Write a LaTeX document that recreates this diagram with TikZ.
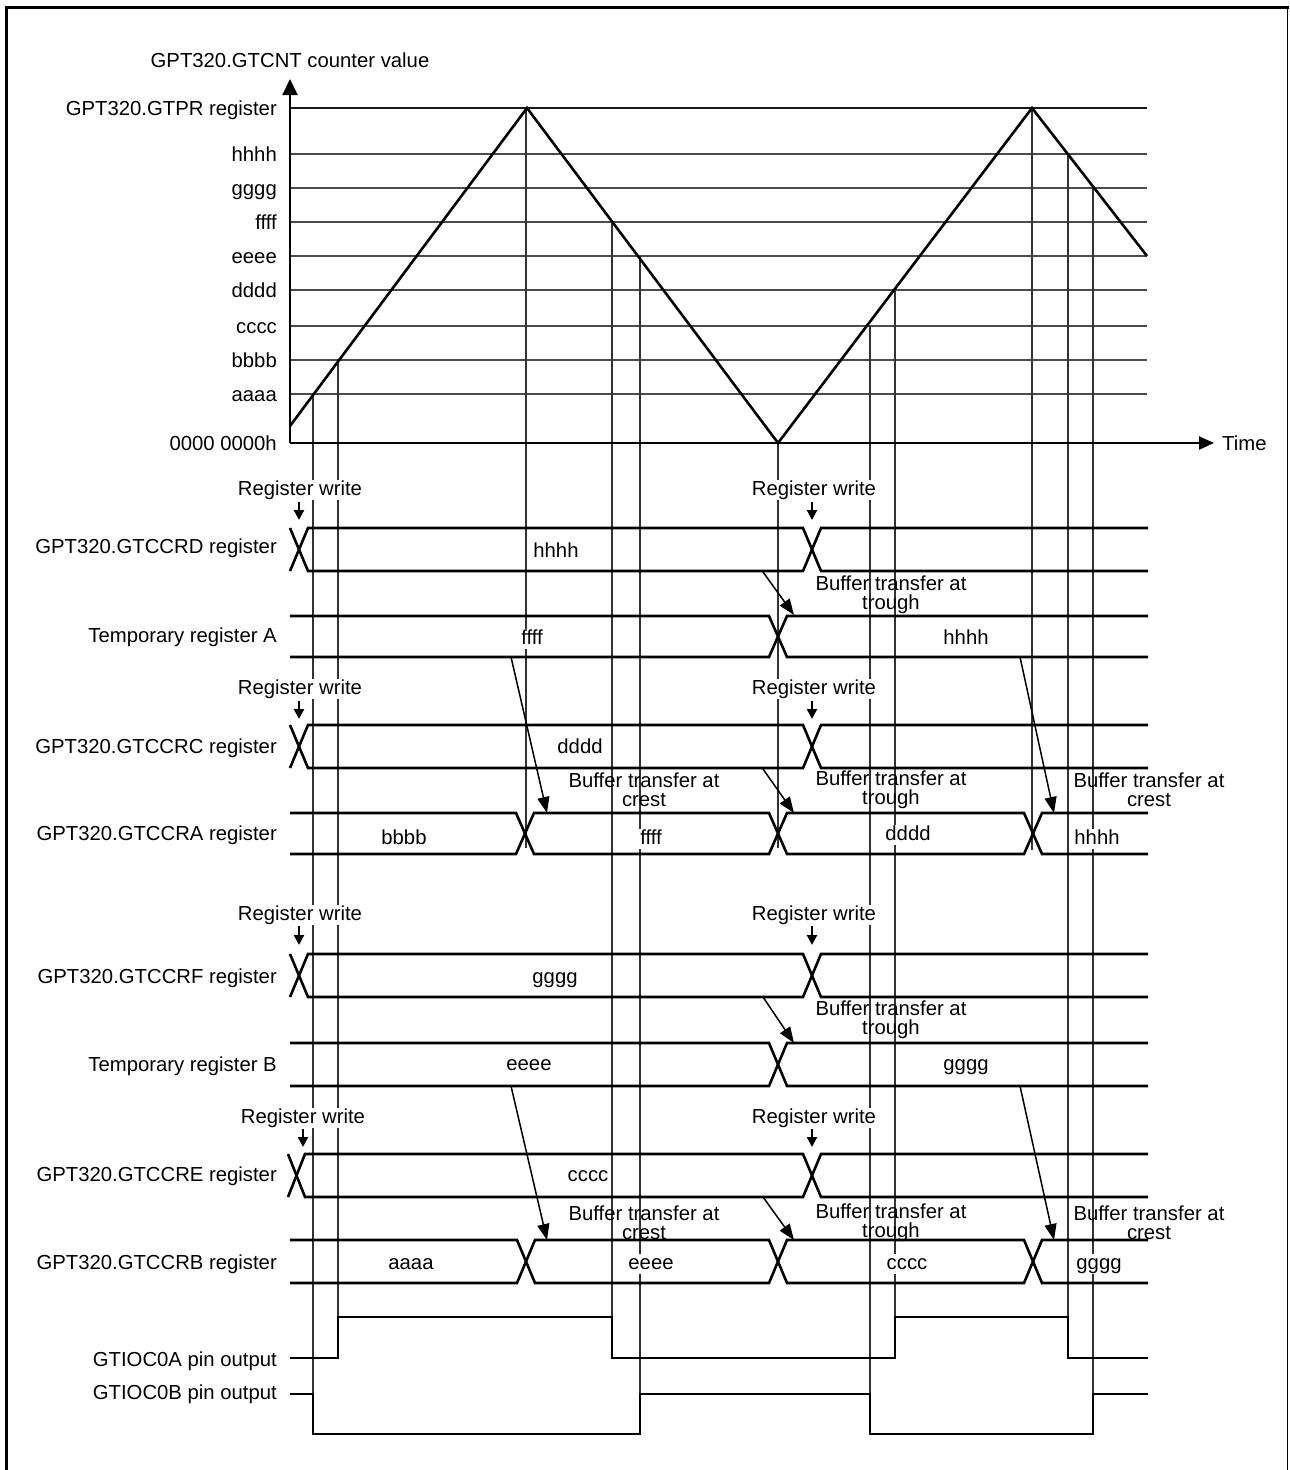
\documentclass[tikz,border=0pt]{standalone}
\usepackage{fontspec}
\setmainfont{Liberation Sans}
\usetikzlibrary{arrows.meta}
\begin{document}
\begin{tikzpicture}[x=1pt,y=-1pt,
  txt/.style={font=\fontsize{20.3}{19}\selectfont, inner sep=1pt, text height=14pt, text depth=4pt},
  wtxt/.style={txt, fill=white},
  lft/.style={txt, anchor=east},
  mtxt/.style={font=\fontsize{20.3}{19}\selectfont, inner sep=0pt, align=center},
  bus/.style={line width=2.6pt, line join=miter},
  gridl/.style={line width=1.4pt, black!70},
  vl/.style={line width=1.1pt, black!80},
  tri/.style={line width=2.6pt, line join=miter},
  buf/.style={line width=1.5pt, -{Triangle[length=16pt,width=12pt]}},
  rw/.style={line width=2.2pt, -{Triangle[length=10pt,width=10pt]}},
  frame/.style={line width=3pt}
]
\useasboundingbox (0,0) rectangle (1290,1470);
% frame
\draw[frame] (6.5,1470) -- (6.5,7.5) -- (1289,7.5);
\draw[line width=1.6pt] (1287.5,6) -- (1287.5,1470);

% grid lines
\draw[line width=1.3pt, black!90] (290,108) -- (1147,108);
\foreach \y in {154,188,222,256,290,326,360,394}
  \draw[gridl] (290,\y) -- (1147,\y);

% vertical lines
\draw[vl] (313,394) -- (313,1434);
\draw[vl] (338,360) -- (338,1358);
\draw[vl] (526,108) -- (526,848);
\draw[vl] (612,222) -- (612,1358);
\draw[vl] (640,256) -- (640,1434);
\draw[vl] (778,443) -- (778,848);
\draw[vl] (870,326) -- (870,1434);
\draw[vl] (895,290) -- (895,1358);
\draw[vl] (1032,108) -- (1032,850);
\draw[vl] (1068,154) -- (1068,1358);
\draw[vl] (1093,188) -- (1093,1434);

% axes
\draw[line width=2.2pt, -{Triangle[length=16pt,width=15pt]}] (290,443) -- (290,79);
\draw[line width=2.4pt, -{Triangle[length=15pt,width=13pt]}] (290,443) -- (1214,443);
% counter
\draw[tri] (290,426) -- (527,108) -- (778,443) -- (1032,108) -- (1147,256);

% bus rows
% GTCCRD
\draw[bus] (290,571) -- (308,528) -- (803,528) -- (821,571) -- (1148,571);
\draw[bus] (290,528) -- (308,571) -- (803,571) -- (821,528) -- (1148,528);
% Temp A
\draw[bus] (290,616) -- (769,616) -- (787,657) -- (1148,657);
\draw[bus] (290,657) -- (769,657) -- (787,616) -- (1148,616);
% GTCCRC
\draw[bus] (290,768) -- (308,725) -- (803,725) -- (821,768) -- (1148,768);
\draw[bus] (290,725) -- (308,768) -- (803,768) -- (821,725) -- (1148,725);
% GTCCRA
\draw[bus] (290,813) -- (516,813) -- (534,854) -- (769,854) -- (787,813) -- (1024,813) -- (1042,854) -- (1148,854);
\draw[bus] (290,854) -- (516,854) -- (534,813) -- (769,813) -- (787,854) -- (1024,854) -- (1042,813) -- (1148,813);
% GTCCRF
\draw[bus] (290,997) -- (308,954) -- (803,954) -- (821,997) -- (1148,997);
\draw[bus] (290,954) -- (308,997) -- (803,997) -- (821,954) -- (1148,954);
% Temp B
\draw[bus] (290,1043) -- (769,1043) -- (787,1086) -- (1148,1086);
\draw[bus] (290,1086) -- (769,1086) -- (787,1043) -- (1148,1043);
% GTCCRE
\draw[bus] (288,1197) -- (305,1154) -- (803,1154) -- (821,1197) -- (1148,1197);
\draw[bus] (288,1154) -- (305,1197) -- (803,1197) -- (821,1154) -- (1148,1154);
% GTCCRB
\draw[bus] (290,1240) -- (517,1240) -- (535,1283) -- (769,1283) -- (787,1240) -- (1024,1240) -- (1042,1283) -- (1148,1283);
\draw[bus] (290,1283) -- (517,1283) -- (535,1240) -- (769,1240) -- (787,1283) -- (1024,1283) -- (1042,1240) -- (1148,1240);
% pin outputs
\draw[bus] (290,1358) -- (338,1358) -- (338,1317) -- (612,1317) -- (612,1358) -- (895,1358) -- (895,1317) -- (1068,1317) -- (1068,1358) -- (1148,1358);
\draw[bus] (290,1394) -- (313,1394) -- (313,1434) -- (640,1434) -- (640,1394) -- (870,1394) -- (870,1434) -- (1093,1434) -- (1093,1394) -- (1148,1394);

% axis labels
\node[txt] (ylab) at (290,62) {GPT320.GTCNT counter value};
\node[txt, anchor=west] (tlab) at (1221,445) {Time};
\node[lft] (lpr) at (278,110) {GPT320.GTPR register};
\node[lft] (lh) at (278,156) {hhhh};
\node[lft] (lg) at (278,190) {gggg};
\node[lft] (lf) at (278,224) {ffff};
\node[lft] (le) at (278,258) {eeee};
\node[lft] (ld) at (278,292) {dddd};
\node[lft] (lc) at (278,328) {cccc};
\node[lft] (lb) at (278,362) {bbbb};
\node[lft] (la) at (278,396) {aaaa};
\node[lft] (lz) at (278,445) {0000 0000h};

% row labels
\node[lft] (rD) at (278,548) {GPT320.GTCCRD register};
\node[lft] (rTA) at (278,637) {Temporary register A};
\node[lft] (rC) at (278,748) {GPT320.GTCCRC register};
\node[lft] (rA) at (278,835) {GPT320.GTCCRA register};
\node[lft] (rF) at (278,978) {GPT320.GTCCRF register};
\node[lft] (rTB) at (278,1066) {Temporary register B};
\node[lft] (rE) at (278,1176) {GPT320.GTCCRE register};
\node[lft] (rB) at (278,1264) {GPT320.GTCCRB register};
\node[lft] (rOA) at (278,1361) {GTIOC0A pin output};
\node[lft] (rOB) at (278,1394) {GTIOC0B pin output};

% value labels
\node[wtxt] (vD) at (556,552) {hhhh};
\node[wtxt] (vTA1) at (532,639) {ffff};
\node[wtxt] (vTA2) at (966,639) {hhhh};
\node[wtxt] (vC) at (580,748) {dddd};
\node[wtxt] (vA1) at (404,839) {bbbb};
\node[wtxt] (vA2) at (651,839) {ffff};
\node[wtxt] (vA3) at (908,835) {dddd};
\node[wtxt] (vA4) at (1097,839) {hhhh};
\node[wtxt] (vF) at (555,978) {gggg};
\node[wtxt] (vTB1) at (529,1065) {eeee};
\node[wtxt] (vTB2) at (966,1065) {gggg};
\node[wtxt] (vE) at (588,1176) {cccc};
\node[wtxt] (vB1) at (411,1264) {aaaa};
\node[wtxt] (vB2) at (651,1264) {eeee};
\node[wtxt] (vB3) at (907,1264) {cccc};
\node[wtxt] (vB4) at (1099,1264) {gggg};

% register write labels and arrows
\foreach \n/\x/\y/\ax/\ya/\yb in {w1/300/490/299/502/520, w2/814/490/812/502/520,
  w3/300/689/299/701/719, w4/814/689/812/701/719,
  w5/300/915/299/926/945, w6/814/915/812/926/945,
  w7/303/1118/303/1129/1147, w8/814/1118/812/1129/1147}{
  \node[wtxt] (\n) at (\x,\y) {Register write};
  \coordinate (\n s) at (\ax,\ya);
  \coordinate (\n e) at (\ax,\yb);
  \draw[rw] (\n s) -- (\n e);
}

% buffer transfer labels
\node[mtxt] (b1) at (891,595) {Buffer transfer at\\trough};
\node[mtxt] (b2) at (644,790) {Buffer transfer at\\crest};
\node[mtxt] (b3) at (891,790) {Buffer transfer at\\trough};
\node[mtxt] (b4) at (1149,790) {Buffer transfer at\\crest};
\node[mtxt] (b5) at (891,1020) {Buffer transfer at\\trough};
\node[mtxt] (b6) at (644,1223) {Buffer transfer at\\crest};
\node[mtxt] (b7) at (891,1223) {Buffer transfer at\\trough};
\node[mtxt] (b8) at (1149,1223) {Buffer transfer at\\crest};

% buffer transfer arrows
\foreach \n/\xa/\ya/\xb/\yb in {a1/763/572/794/615, a2/511/657/547/813, a3/763/769/794/813,
  a4/1020/657/1054/813, a5/763/997/794/1043, a6/511/1086/547/1240,
  a7/763/1197/794/1240, a8/1020/1086/1054/1240}{
  \coordinate (\n s) at (\xa,\ya);
  \coordinate (\n e) at (\xb,\yb);
  \draw[buf] (\n s) -- (\n e);
}
\end{tikzpicture}
\end{document}
